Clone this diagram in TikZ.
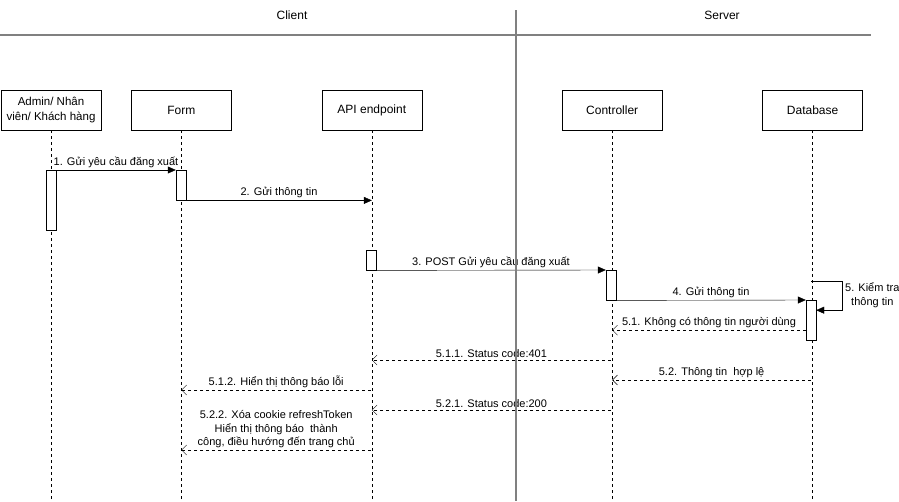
\documentclass[tikz,border=0pt]{standalone}
\usepackage{fontspec}
\setmainfont{Liberation Sans}
\usetikzlibrary{arrows.meta}
\usetikzlibrary{positioning}
\definecolor{Lane-grey}{RGB}{128,128,128}

\begin{document}
\begin{tikzpicture}[x=1pt, y=-1pt, font=\fontsize{11}{13.5}\selectfont]
    \tikzset{ obj/.style ={draw=black, minimum width=100pt, minimum height=40pt, align=center, inner sep=1pt, font=\fontsize{12}{15}\selectfont} }
    \tikzset{ act/.style ={draw=black, fill=white, minimum width=10pt, inner sep=0pt, anchor=north} }
    \tikzset{ life/.style={draw=black, dash pattern=on 3pt off 3pt} }
    \tikzset{ lane/.style={draw=Lane-grey, line width=2pt} }
    \tikzset{ msg/.style ={draw=black, -{Triangle[length=8pt,width=7pt]}} }
    \tikzset{ ret/.style ={draw=black, dash pattern=on 3pt off 3pt, -{Straight Barb[length=5pt,width=10pt]}} }
    \tikzset{ lbl/.style ={midway, above, inner sep=2pt, align=center} }

    \useasboundingbox (0,0) rectangle (899,501);

    \node                                  (client) at (292,15)  {\fontsize{12}{14}\selectfont Client};
    \node                                  (server) at (722,15)  {\fontsize{12}{14}\selectfont Server};

    \node[obj, font=\fontsize{11.5}{15.5}\selectfont] (admin) at (51,110) {Admin/ Nhân\\viên/ Khách hàng};
    \node[obj, right=30pt of admin ] (form)            {Form};
    \node[obj, right=90pt of form  ] (api)             {API endpoint};
    \node[obj, right=140pt of api  ] (ctrl)            {Controller};
    \node[obj, right=100pt of ctrl ] (db)              {Database};

    \coordinate (bottom) at (0,501);
    \foreach \o in {admin,form,api,ctrl,db} {
        \coordinate (\o_end) at (\o.south |- bottom);
        \draw[life] (\o.south) -- (\o_end);
    }

    \node[act, minimum height=60pt] (admin_a) at (51,170)  {};
    \node[act, minimum height=30pt] (form_a)  at (181,170) {};
    \node[act, minimum height=20pt] (api_a)   at (371,250) {};
    \node[act, minimum height=30pt] (ctrl_a)  at (611,270) {};
    \node[act, minimum height=40pt] (db_a)    at (811,300) {};

    \coordinate (db_s)  at (811,281);
    \coordinate (r511)  at (611,360);
    \coordinate (r512)  at (371,390);
    \coordinate (r52)   at (811,380);
    \coordinate (r521)  at (611,410);
    \coordinate (r522)  at (371,450);

    \draw[msg] (admin_a.north east) -- (form_a.north west)                node [lbl] {1. Gửi yêu cầu đăng xuất};
    \draw[msg] (form_a.south east)  -- (form_a.south east -| api.south)   node [lbl] {2. Gửi thông tin};
    \draw[msg] (api_a.south east)   -- (ctrl_a.north west)                node [lbl] {3. POST Gửi yêu cầu đăng xuất};
    \draw[msg] (ctrl_a.south east)  -- (db_a.north west)                  node [lbl] {4. Gửi thông tin};
    \draw[msg] (db_s) -- ++(31,0) |- ([yshift=10pt]db_a.east);
    \node[align=center, anchor=west, inner sep=1pt] (db_chk) at (844,295) {5. Kiểm tra\\thông tin};

    \draw[ret] ([yshift=-10pt]db_a.west) -- ([yshift=-10pt]db_a.west -| ctrl.south) node [lbl] {5.1. Không có thông tin người dùng};
    \draw[ret] (r511) -- (r511 -| api.south)  node [lbl] {5.1.1. Status code:401};
    \draw[ret] (r512) -- (r512 -| form.south) node [lbl] {5.1.2. Hiển thị thông báo lỗi};
    \draw[ret] (r52)  -- (r52 -| ctrl.south)  node [lbl] {5.2. Thông tin~ hợp lệ};
    \draw[ret] (r521) -- (r521 -| api.south)  node [lbl] {5.2.1. Status code:200};
    \draw[ret] (r522) -- (r522 -| form.south) node [lbl] {5.2.2. Xóa cookie refreshToken\\Hiển thị thông báo~ thành\\công, điều hướng đến trang chủ};

    \coordinate (lane_w) at (0,35);
    \coordinate (lane_e) at (871,35);
    \coordinate (lane_n) at (516,10);
    \coordinate (lane_s) at (516,501);
    \draw[lane] (lane_w) -- (lane_e);
    \draw[lane] (lane_n) -- (lane_s);
\end{tikzpicture}
\end{document}
